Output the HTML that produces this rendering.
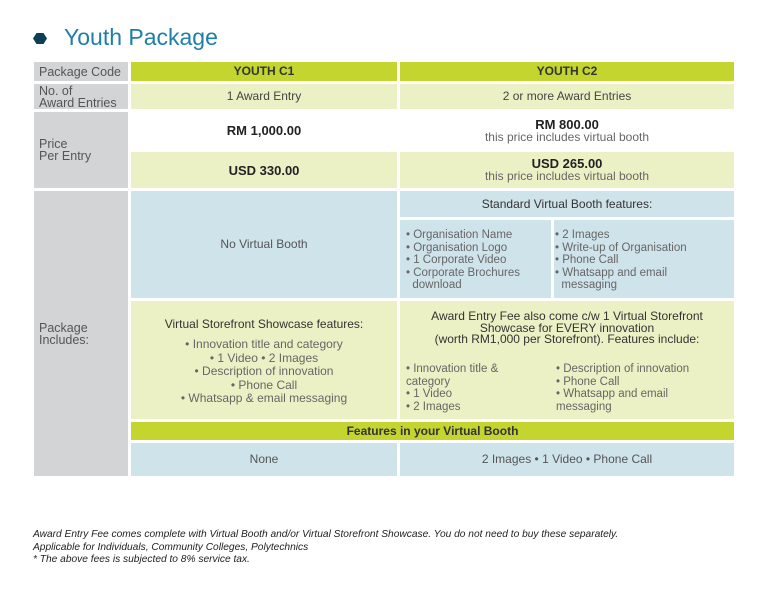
<!DOCTYPE html>
<html><head><meta charset="utf-8"><style>
*{margin:0;padding:0;box-sizing:border-box}
body{width:768px;height:595px;background:#fff;font-family:"Liberation Sans",sans-serif;position:relative;overflow:hidden;color:#333}
.c{position:absolute;display:flex;flex-direction:column;justify-content:center;align-items:center;text-align:center;font-size:12px;color:#444;line-height:13px}
.g{background:#d3d4d6;align-items:flex-start;text-align:left;padding-left:5px;color:#555;font-size:12.5px;line-height:12px}
.l{background:#c3d52e;font-weight:bold;color:#333}
.y{background:#ecf1c5}
.b{background:#cfe3ea}
.w{background:#fff}
.li{text-align:left;align-items:flex-start;justify-content:flex-start;color:#666;font-size:11.5px;line-height:12.5px}
.bold{font-weight:bold;font-size:13px;color:#222}
.sub{font-size:12px;color:#666}
</style></head><body>
<div style="position:absolute;left:33px;top:33px;width:14px;height:11px;background:#0f3f55;clip-path:polygon(25% 0,75% 0,100% 50%,75% 100%,25% 100%,0 50%)"></div>
<div style="position:absolute;left:64px;top:24px;font-size:23px;color:#1f7fa8">Youth Package</div>

<div class="c g" style="left:34px;top:62px;width:94px;height:19px">Package Code</div>
<div class="c l" style="left:131px;top:62px;width:266px;height:19px">YOUTH C1</div>
<div class="c l" style="left:400px;top:62px;width:334px;height:19px">YOUTH C2</div>

<div class="c g" style="left:34px;top:84px;width:94px;height:25px">No. of<br>Award Entries</div>
<div class="c y" style="left:131px;top:84px;width:266px;height:25px">1 Award Entry</div>
<div class="c y" style="left:400px;top:84px;width:334px;height:25px">2 or more Award Entries</div>

<div class="c g" style="left:34px;top:112px;width:94px;height:76px">Price<br>Per Entry</div>
<div class="c w bold" style="left:131px;top:112px;width:266px;height:37px">RM 1,000.00</div>
<div class="c w" style="left:400px;top:112px;width:334px;height:37px"><span class="bold">RM 800.00</span><span class="sub">this price includes virtual booth</span></div>
<div class="c y bold" style="left:131px;top:152px;width:266px;height:36px">USD 330.00</div>
<div class="c y" style="left:400px;top:152px;width:334px;height:36px"><span class="bold">USD 265.00</span><span class="sub">this price includes virtual booth</span></div>

<div class="c g" style="left:34px;top:191px;width:94px;height:285px">Package<br>Includes:</div>
<div class="c b" style="left:131px;top:191px;width:266px;height:107px;color:#555">No Virtual Booth</div>
<div class="c b" style="left:400px;top:191px;width:334px;height:26px;color:#333">Standard Virtual Booth features:</div>
<div class="c b li" style="left:400px;top:220px;width:151px;height:78px;padding:9px 0 0 6px">• Organisation Name<br>• Organisation Logo<br>• 1 Corporate Video<br>• Corporate Brochures<br>&nbsp;&nbsp;download</div>
<div class="c b li" style="left:554px;top:220px;width:180px;height:78px;padding:9px 0 0 1px">• 2 Images<br>• Write-up of Organisation<br>• Phone Call<br>• Whatsapp and email<br>&nbsp;&nbsp;messaging</div>

<div class="c y" style="left:131px;top:301px;width:266px;height:118px;justify-content:flex-start;padding-top:17px"><span style="color:#333">Virtual Storefront Showcase features:</span><span style="color:#666;margin-top:7px;line-height:13.5px">• Innovation title and category<br>• 1 Video • 2 Images<br>• Description of innovation<br>• Phone Call<br>• Whatsapp &amp; email messaging</span></div>
<div class="c y" style="left:400px;top:301px;width:334px;height:118px;justify-content:flex-start;padding-top:10px"><span style="color:#333;line-height:11.5px">Award Entry Fee also come c/w 1 Virtual Storefront<br>Showcase for EVERY innovation<br>(worth RM1,000 per Storefront). Features include:</span></div>
<div class="c li" style="left:406px;top:363px;width:140px;height:52px">• Innovation title &amp;<br>category<br>• 1 Video<br>• 2 Images</div>
<div class="c li" style="left:556px;top:363px;width:178px;height:52px">• Description of innovation<br>• Phone Call<br>• Whatsapp and email<br>messaging</div>

<div class="c l" style="left:131px;top:422px;width:603px;height:18px">Features in your Virtual Booth</div>
<div class="c b" style="left:131px;top:443px;width:266px;height:33px;color:#555">None</div>
<div class="c b" style="left:400px;top:443px;width:334px;height:33px;color:#555">2 Images • 1 Video • Phone Call</div>

<div style="position:absolute;left:33px;top:529px;font-size:10.2px;font-style:italic;line-height:12.5px;color:#222">Award Entry Fee comes complete with Virtual Booth and/or Virtual Storefront Showcase. You do not need to buy these separately.<br>Applicable for Individuals, Community Colleges, Polytechnics<br>* The above fees is subjected to 8% service tax.</div>
</body></html>
